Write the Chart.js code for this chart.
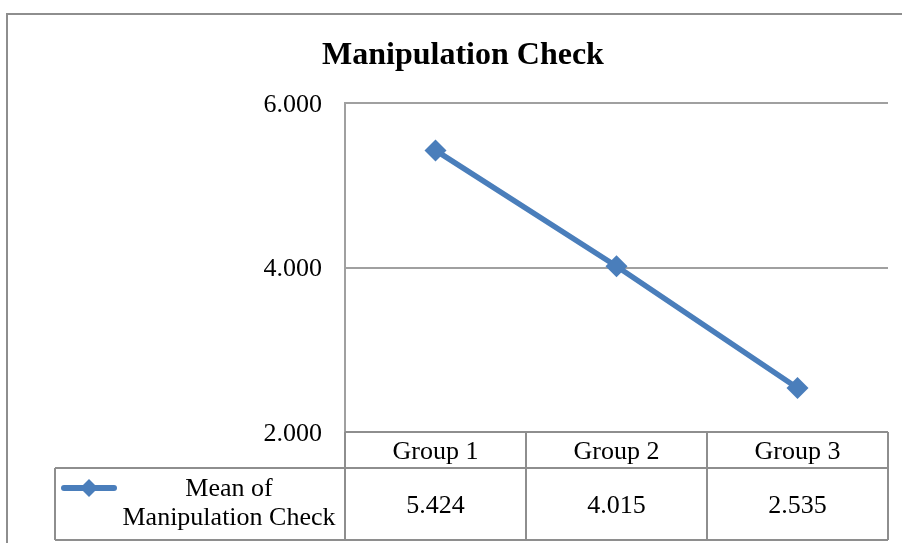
<!DOCTYPE html>
<html>
<head>
<meta charset="utf-8">
<title>Manipulation Check</title>
<script src="https://cdn.jsdelivr.net/npm/chart.js@4"></script>
<style>
  html, body { margin: 0; padding: 0; background: #fff; }
  #wrap { position: relative; width: 902px; height: 543px; }
</style>
</head>
<body>
<div id="wrap"><canvas id="checkChart" width="902" height="543"></canvas></div>
<script>
// Chart data
const categories = ['Group 1', 'Group 2', 'Group 3'];
const seriesName = ['Mean of', 'Manipulation Check'];
const meanValues = [5.424, 4.015, 2.535];
const yTicks = [2, 4, 6];

const lineBlue = '#4A7EBB';
const borderGray = '#8E8E8E';
const serif = '"Liberation Serif", "Times New Roman", serif';

// Outer chart frame (Excel style, runs off the right/bottom edge)
const framePlugin = {
  id: 'frame',
  beforeDraw(chart) {
    const ctx = chart.ctx;
    ctx.save();
    ctx.strokeStyle = borderGray;
    ctx.lineWidth = 2;
    ctx.strokeRect(7, 14, 1000, 1000);
    ctx.restore();
  }
};

// Data table under the plot, drawn from the x scale
const dataTablePlugin = {
  id: 'dataTable',
  afterDraw(chart) {
    const ctx = chart.ctx;
    const area = chart.chartArea;
    const x = chart.scales.x;
    const step = (area.right - area.left) / categories.length;
    const rowTop = area.bottom;
    const rowMid = rowTop + 36;
    const rowBottom = rowTop + 108;
    const legendLeft = 55;

    ctx.save();
    ctx.strokeStyle = borderGray;
    ctx.lineWidth = 2;

    // horizontal lines
    ctx.beginPath();
    ctx.moveTo(area.left, rowTop); ctx.lineTo(area.right, rowTop);
    ctx.moveTo(legendLeft, rowMid); ctx.lineTo(area.right, rowMid);
    ctx.moveTo(legendLeft, rowBottom); ctx.lineTo(area.right, rowBottom);
    // vertical lines
    for (let i = 0; i <= categories.length; i++) {
      const px = area.left + i * step;
      ctx.moveTo(px, rowTop); ctx.lineTo(px, rowBottom);
    }
    ctx.moveTo(legendLeft, rowMid); ctx.lineTo(legendLeft, rowBottom);
    ctx.stroke();

    // header + values
    ctx.fillStyle = '#000';
    ctx.font = '26px ' + serif;
    ctx.textAlign = 'center';
    ctx.textBaseline = 'middle';
    categories.forEach((cat, i) => {
      const cx = x.getPixelForValue(i);
      ctx.fillText(cat, cx, (rowTop + rowMid) / 2 + 2);
      ctx.fillText(meanValues[i].toFixed(3), cx, (rowMid + rowBottom) / 2 + 2);
    });

    // legend key
    const keyY = rowMid + 20;
    ctx.strokeStyle = lineBlue;
    ctx.lineWidth = 6;
    ctx.lineCap = 'round';
    ctx.beginPath();
    ctx.moveTo(64, keyY); ctx.lineTo(114, keyY);
    ctx.stroke();
    ctx.fillStyle = lineBlue;
    ctx.beginPath();
    ctx.moveTo(89, keyY - 9); ctx.lineTo(98, keyY);
    ctx.lineTo(89, keyY + 9); ctx.lineTo(80, keyY);
    ctx.closePath();
    ctx.fill();

    ctx.fillStyle = '#000';
    ctx.fillText(seriesName[0], 229, keyY + 1);
    ctx.fillText(seriesName[1], 229, keyY + 30);
    ctx.restore();
  }
};

const ctx = document.getElementById('checkChart').getContext('2d');
const checkChart = new Chart(ctx, {
  type: 'line',
  data: {
    labels: categories,
    datasets: [{
      label: seriesName.join(' '),
      data: meanValues,
      borderColor: lineBlue,
      backgroundColor: lineBlue,
      borderWidth: 5.5,
      tension: 0,
      pointStyle: 'rectRot',
      pointRadius: 11,
      pointBorderWidth: 0,
      pointBackgroundColor: lineBlue
    }]
  },
  options: {
    responsive: false,
    animation: false,
    layout: {
      padding: { left: 38, right: 14, top: 0, bottom: 111 }
    },
    plugins: {
      legend: { display: false },
      tooltip: { enabled: false },
      title: {
        display: true,
        text: 'Manipulation Check',
        color: '#000',
        font: { family: serif, size: 32, weight: 'bold', lineHeight: 1.2 },
        padding: { top: 37, bottom: 27.6 }
      }
    },
    scales: {
      x: {
        type: 'category',
        display: false,
        offset: true
      },
      y: {
        min: 2,
        max: 6,
        afterFit(scale) { scale.width = 307; },
        afterBuildTicks(scale) { scale.ticks = yTicks.map(v => ({ value: v })); },
        border: { display: true, color: '#A0A0A0', width: 2 },
        grid: { color: '#A0A0A0', lineWidth: 2, drawTicks: false },
        ticks: {
          padding: 23,
          labelOffset: 2,
          color: '#000',
          font: { family: serif, size: 26 },
          callback: value => value.toFixed(3)
        }
      }
    }
  },
  plugins: [framePlugin, dataTablePlugin]
});
</script>
</body>
</html>
